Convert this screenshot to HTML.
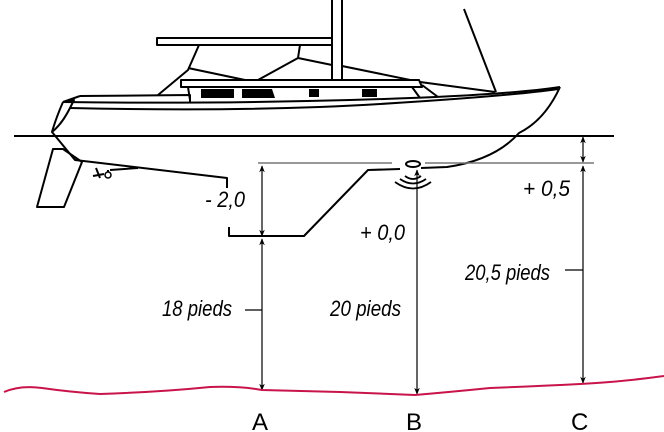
<!DOCTYPE html>
<html><head><meta charset="utf-8"><style>
html,body{margin:0;padding:0;background:#fff;}
svg{display:block;}
text{font-family:"Liberation Sans Narrow","Liberation Sans",sans-serif;}
.l{font-style:italic;font-size:22px;}
.c{font-family:"Liberation Sans",sans-serif;font-size:24px;}
</style></head><body>
<svg width="664" height="432" viewBox="0 0 664 432" xmlns="http://www.w3.org/2000/svg">
<defs>
<marker id="ar" viewBox="0 0 10 10" refX="9" refY="5" markerWidth="7" markerHeight="9" orient="auto-start-reverse" markerUnits="userSpaceOnUse">
<path d="M0,1 L10,5 L0,9 L3,5 Z" fill="#000"/></marker>
</defs>
<g fill="none" stroke="#000" stroke-width="2" stroke-linejoin="round">
<rect x="332" y="-2" width="10" height="82" fill="#fff"/>
<rect x="157" y="38" width="175" height="7" fill="#fff"/>
<line x1="464" y1="9" x2="496" y2="92"/>
<path d="M199,45 L188,70 L158,95"/>
<path d="M188,68 L245,80"/>
<path d="M300,45 L298,58 L258,80"/>
<path d="M298,58 L332,65"/>
<path d="M342,66 L420,82 L495,92"/>
<path d="M181,80 L419,80 L422,87 L181,87 Z" fill="#fff"/>
<path d="M188,87 L190,100"/>
<path d="M412,87 L420,98"/>
<path d="M422,85 L438,97"/>
<path d="M80,96 L190,95 L190,102"/>
<path d="M63,102 L80,96"/>
<path d="M63,102 Q200,104 350,100 T560,87" />
<path d="M70,108 Q250,112 380,104 T558,89"/>
<path d="M63,102 L74,100 L70,108 Q62,124 52,132 L75,160 L227,178 L227,188"/>
<path d="M63,102 Q56,118 52,132"/>
<path d="M560,87 Q545,120 519,133 Q495,160 447,167 L421,168"/>
<path d="M400,169 L368,170 L304,236 L229,236 L229,227"/>
<path d="M53,149 L63,149 L82,162 L64,207 L37,207 Z"/>
</g>
<g fill="#000">
<rect x="201" y="89" width="33" height="9"/>
<path d="M242,89 L272,89 L275,98 L242,98 Z"/>
<rect x="309" y="89" width="10" height="8"/>
<rect x="362" y="89" width="15" height="8"/>
</g>
<path d="M96,168 L100,178 M93,176 L104,174 M108,170 L108,178 M110,170 L138,168" stroke="#000" stroke-width="2" fill="none"/>
<circle cx="108" cy="175" r="3" fill="#fff" stroke="#000" stroke-width="1.5"/>
<line x1="14" y1="136" x2="614" y2="136" stroke="#000" stroke-width="2"/>
<path d="M258,163 L392,163 M425,163 L594,163" stroke="#777" stroke-width="1.5"/>
<ellipse cx="413" cy="164" rx="7" ry="3" fill="#fff" stroke="#000" stroke-width="2"/>
<g fill="none" stroke="#000" stroke-width="1.8">
<path d="M405,176 Q413,182 421,176"/>
<path d="M400,179 Q413,188 426,179"/>
<path d="M395,182 Q413,195 431,182"/>
</g>
<g stroke="#000" stroke-width="1.2" fill="none">
<line x1="262" y1="166" x2="262" y2="236" marker-start="url(#ar)" marker-end="url(#ar)"/>
<line x1="262" y1="239" x2="262" y2="390" marker-start="url(#ar)" marker-end="url(#ar)"/>
<line x1="417" y1="170" x2="417" y2="394" marker-start="url(#ar)" marker-end="url(#ar)"/>
<line x1="583" y1="137" x2="583" y2="162" marker-start="url(#ar)" marker-end="url(#ar)"/>
<line x1="583" y1="166" x2="583" y2="383" marker-start="url(#ar)" marker-end="url(#ar)"/>
<line x1="245" y1="310" x2="262" y2="310"/>
<line x1="565" y1="270" x2="583" y2="270"/>
</g>
<path d="M4,392 Q20,385 42,388 Q70,392 100,394 Q160,392 210,387 Q240,386 262,390 L340,392 Q390,394 415,395 Q450,392 490,388 Q540,386 580,384 Q620,382 664,376" fill="none" stroke="#c8144a" stroke-width="2"/>
<text class="l" x="205" y="207" textLength="40" lengthAdjust="spacingAndGlyphs">- 2,0</text>
<text class="l" x="360" y="240" textLength="45" lengthAdjust="spacingAndGlyphs">+ 0,0</text>
<text class="l" x="523" y="196" textLength="47" lengthAdjust="spacingAndGlyphs">+ 0,5</text>
<text class="l" x="465" y="280" textLength="85" lengthAdjust="spacingAndGlyphs">20,5 pieds</text>
<text class="l" x="162" y="316" textLength="70" lengthAdjust="spacingAndGlyphs">18 pieds</text>
<text class="l" x="330" y="316" textLength="71" lengthAdjust="spacingAndGlyphs">20 pieds</text>
<text class="c" x="252" y="430">A</text>
<text class="c" x="406" y="430">B</text>
<text class="c" x="571" y="430">C</text>
</svg>
</body></html>
